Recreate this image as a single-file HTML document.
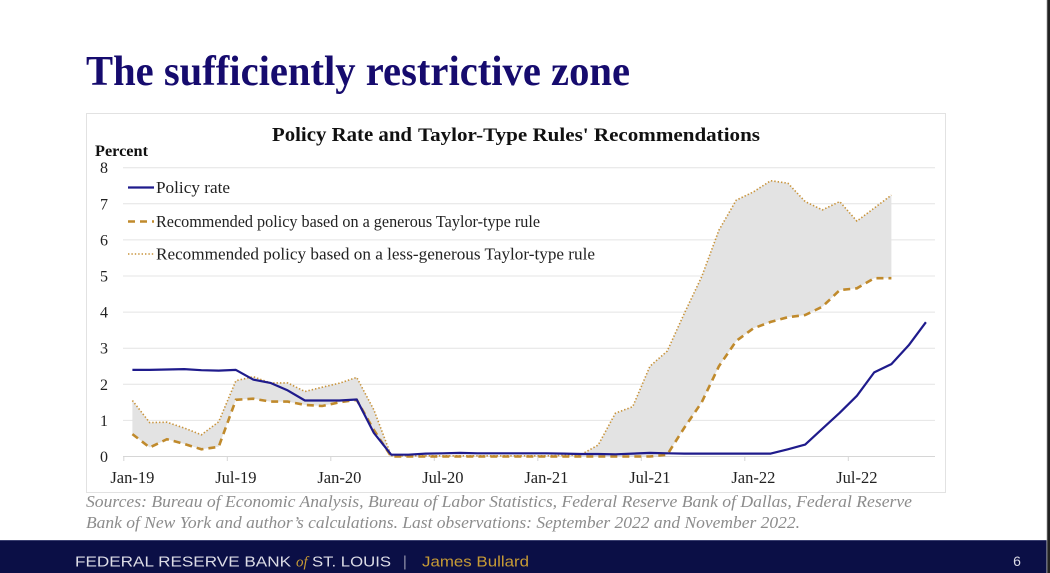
<!DOCTYPE html>
<html>
<head>
<meta charset="utf-8">
<style>
html,body{margin:0;padding:0;background:#fff;}
body{width:1050px;height:573px;overflow:hidden;position:relative;}
svg{display:block;}
</style>
</head>
<body>
<svg width="1050" height="573" viewBox="0 0 1050 573" xmlns="http://www.w3.org/2000/svg">
  <rect x="0" y="0" width="1050" height="573" fill="#ffffff"/>
  <!-- Title -->
  <text x="86" y="85" font-family="Liberation Serif, serif" font-weight="bold" font-size="42" fill="#160b6e" textLength="544" lengthAdjust="spacingAndGlyphs">The sufficiently restrictive zone</text>

  <!-- chart box -->
  <rect x="86.5" y="113.5" width="859" height="379" fill="#ffffff" stroke="#e2e2e2" stroke-width="1"/>

  <!-- chart title -->
  <text x="272" y="141" font-family="Liberation Serif, serif" font-weight="bold" font-size="20" fill="#111" textLength="140" lengthAdjust="spacingAndGlyphs">Policy Rate and</text>
  <text x="418" y="141" font-family="Liberation Serif, serif" font-weight="bold" font-size="18.5" fill="#111" textLength="342" lengthAdjust="spacingAndGlyphs">Taylor-Type Rules' Recommendations</text>

  <text x="95" y="156" font-family="Liberation Serif, serif" font-weight="bold" font-size="16" fill="#111" textLength="53" lengthAdjust="spacingAndGlyphs">Percent</text>

  <!-- gridlines -->
  <g stroke="#e4e4e4" stroke-width="1">
    <line x1="123" y1="420.4" x2="935" y2="420.4"/>
    <line x1="123" y1="384.3" x2="935" y2="384.3"/>
    <line x1="123" y1="348.2" x2="935" y2="348.2"/>
    <line x1="123" y1="312.1" x2="935" y2="312.1"/>
    <line x1="123" y1="276" x2="935" y2="276"/>
    <line x1="123" y1="239.9" x2="935" y2="239.9"/>
    <line x1="123" y1="203.8" x2="935" y2="203.8"/>
    <line x1="123" y1="167.7" x2="935" y2="167.7"/>
  </g>
  <line x1="123" y1="456.5" x2="935" y2="456.5" stroke="#d6d6d6" stroke-width="1"/>
  <g stroke="#d6d6d6" stroke-width="1">
    <line x1="123.8" y1="456.5" x2="123.8" y2="461"/>
    <line x1="227.3" y1="456.5" x2="227.3" y2="461"/>
    <line x1="330.8" y1="456.5" x2="330.8" y2="461"/>
    <line x1="434.3" y1="456.5" x2="434.3" y2="461"/>
    <line x1="537.8" y1="456.5" x2="537.8" y2="461"/>
    <line x1="641.3" y1="456.5" x2="641.3" y2="461"/>
    <line x1="744.8" y1="456.5" x2="744.8" y2="461"/>
    <line x1="848.3" y1="456.5" x2="848.3" y2="461"/>
  </g>

  <!-- y labels -->
  <g font-family="Liberation Serif, serif" font-size="16" fill="#222" text-anchor="middle">
    <text x="104" y="462">0</text>
    <text x="104" y="425.9">1</text>
    <text x="104" y="389.8">2</text>
    <text x="104" y="353.7">3</text>
    <text x="104" y="317.6">4</text>
    <text x="104" y="281.5">5</text>
    <text x="104" y="245.4">6</text>
    <text x="104" y="209.3">7</text>
    <text x="104" y="173.2">8</text>
  </g>

  <!-- x labels -->
  <g font-family="Liberation Serif, serif" font-size="16.5" fill="#222" text-anchor="middle">
    <text x="132.4" y="483">Jan-19</text>
    <text x="235.9" y="483">Jul-19</text>
    <text x="339.4" y="483">Jan-20</text>
    <text x="442.9" y="483">Jul-20</text>
    <text x="546.4" y="483">Jan-21</text>
    <text x="649.9" y="483">Jul-21</text>
    <text x="753.4" y="483">Jan-22</text>
    <text x="856.9" y="483">Jul-22</text>
  </g>

  <!-- fill between rules -->
  <polygon fill="#e3e3e3" points="132.4,400.5 149.7,422.6 166.9,422.2 184.2,428.0 201.4,434.8 218.7,421.8 235.9,380.7 253.2,376.7 270.4,382.9 287.7,382.9 304.9,391.5 322.2,387.2 339.4,383.2 356.7,377.4 373.9,409.9 391.2,455.8 408.4,455.8 425.7,455.8 442.9,455.8 460.2,455.8 477.4,455.8 494.7,455.8 511.9,455.8 529.2,455.8 546.4,455.8 563.7,455.4 580.9,454.7 598.2,445.0 615.4,413.2 632.7,406.7 649.9,366.3 667.2,351.1 684.4,313.2 701.7,276.7 718.9,230.2 736.2,200.2 753.4,191.9 770.7,180.7 787.9,183.2 805.2,201.6 822.4,209.9 839.7,201.6 856.9,221.1 874.2,208.1 891.4,195.1 891.4,278.2 874.2,278.2 856.9,288.3 839.7,290.1 822.4,306.7 805.2,315.0 787.9,317.2 770.7,321.9 753.4,328.3 736.2,341.0 718.9,366.3 701.7,402.3 684.4,427.6 667.2,454.7 649.9,456.5 632.7,456.5 615.4,456.5 598.2,456.5 580.9,456.5 563.7,456.5 546.4,456.5 529.2,456.5 511.9,456.5 494.7,456.5 477.4,456.5 460.2,456.5 442.9,456.5 425.7,456.5 408.4,456.5 391.2,456.5 373.9,430.1 356.7,399.8 339.4,402.3 322.2,406.0 304.9,404.9 287.7,401.6 270.4,401.6 253.2,398.7 235.9,399.8 218.7,446.8 201.4,449.3 184.2,443.9 166.9,439.2 149.7,447.5 132.4,434.1"/>

  <!-- less-generous (dotted) -->
  <polyline fill="none" stroke="#c8933a" stroke-width="1.6" stroke-dasharray="1.4,2" points="132.4,400.5 149.7,422.6 166.9,422.2 184.2,428.0 201.4,434.8 218.7,421.8 235.9,380.7 253.2,376.7 270.4,382.9 287.7,382.9 304.9,391.5 322.2,387.2 339.4,383.2 356.7,377.4 373.9,409.9 391.2,455.8 408.4,455.8 425.7,455.8 442.9,455.8 460.2,455.8 477.4,455.8 494.7,455.8 511.9,455.8 529.2,455.8 546.4,455.8 563.7,455.4 580.9,454.7 598.2,445.0 615.4,413.2 632.7,406.7 649.9,366.3 667.2,351.1 684.4,313.2 701.7,276.7 718.9,230.2 736.2,200.2 753.4,191.9 770.7,180.7 787.9,183.2 805.2,201.6 822.4,209.9 839.7,201.6 856.9,221.1 874.2,208.1 891.4,195.1"/>

  <!-- generous (dashed) -->
  <polyline fill="none" stroke="#c08a2c" stroke-width="2.6" stroke-dasharray="7,5" points="132.4,434.1 149.7,447.5 166.9,439.2 184.2,443.9 201.4,449.3 218.7,446.8 235.9,399.8 253.2,398.7 270.4,401.6 287.7,401.6 304.9,404.9 322.2,406.0 339.4,402.3 356.7,399.8 373.9,430.1 391.2,456.5 408.4,456.5 425.7,456.5 442.9,456.5 460.2,456.5 477.4,456.5 494.7,456.5 511.9,456.5 529.2,456.5 546.4,456.5 563.7,456.5 580.9,456.5 598.2,456.5 615.4,456.5 632.7,456.5 649.9,456.5 667.2,454.7 684.4,427.6 701.7,402.3 718.9,366.3 736.2,341.0 753.4,328.3 770.7,321.9 787.9,317.2 805.2,315.0 822.4,306.7 839.7,290.1 856.9,288.3 874.2,278.2 891.4,278.2"/>

  <!-- policy rate -->
  <polyline fill="none" stroke="#1f1b8c" stroke-width="2.2" stroke-linejoin="round" points="132.4,369.9 149.7,369.9 166.9,369.5 184.2,369.1 201.4,370.2 218.7,370.6 235.9,369.9 253.2,379.6 270.4,382.9 287.7,390.4 304.9,400.5 322.2,400.5 339.4,400.5 356.7,399.5 373.9,433.0 391.2,454.7 408.4,454.7 425.7,453.6 442.9,453.3 460.2,452.9 477.4,453.3 494.7,453.3 511.9,453.3 529.2,453.3 546.4,453.3 563.7,453.6 580.9,454.0 598.2,454.0 615.4,454.3 632.7,453.6 649.9,452.9 667.2,453.3 684.4,453.6 701.7,453.6 718.9,453.6 736.2,453.6 753.4,453.6 770.7,453.6 787.9,449.3 805.2,444.6 822.4,428.7 839.7,412.8 856.9,395.8 874.2,372.4 891.4,364.1 908.7,345.3 925.9,322.2"/>

  <!-- legend -->
  <line x1="128" y1="187.5" x2="154" y2="187.5" stroke="#1f1b8c" stroke-width="2.2"/>
  <text x="156" y="193" font-family="Liberation Serif, serif" font-size="16.5" fill="#222" textLength="74" lengthAdjust="spacingAndGlyphs">Policy rate</text>
  <line x1="128" y1="221.5" x2="154" y2="221.5" stroke="#c08a2c" stroke-width="2.6" stroke-dasharray="7,5"/>
  <text x="156" y="227" font-family="Liberation Serif, serif" font-size="16.5" fill="#222" textLength="384" lengthAdjust="spacingAndGlyphs">Recommended policy based on a generous Taylor-type rule</text>
  <line x1="128" y1="254" x2="154" y2="254" stroke="#c8933a" stroke-width="1.6" stroke-dasharray="1.4,2"/>
  <text x="156" y="259.5" font-family="Liberation Serif, serif" font-size="16.5" fill="#222" textLength="439" lengthAdjust="spacingAndGlyphs">Recommended policy based on a less-generous Taylor-type rule</text>

  <!-- sources -->
  <text x="86" y="507" font-family="Liberation Serif, serif" font-style="italic" font-size="17" fill="#8c8c8c" textLength="826" lengthAdjust="spacingAndGlyphs">Sources: Bureau of Economic Analysis, Bureau of Labor Statistics, Federal Reserve Bank of Dallas, Federal Reserve</text>
  <text x="86" y="528" font-family="Liberation Serif, serif" font-style="italic" font-size="17" fill="#8c8c8c" textLength="714" lengthAdjust="spacingAndGlyphs">Bank of New York and author’s calculations. Last observations: September 2022 and November 2022.</text>

  <!-- footer -->
  <rect x="0" y="540" width="1050" height="33" fill="#0b0f46"/>
  <line x1="0" y1="540.5" x2="1050" y2="540.5" stroke="#3a3f70" stroke-width="1"/>
  <text x="75" y="566.5" font-family="Liberation Sans, sans-serif" font-size="15" fill="#dcdce6" textLength="216" lengthAdjust="spacingAndGlyphs">FEDERAL RESERVE BANK</text>
  <text x="296" y="566.5" font-family="Liberation Serif, serif" font-style="italic" font-size="15" fill="#c79b35">of</text>
  <text x="312" y="566.5" font-family="Liberation Sans, sans-serif" font-size="15" fill="#dcdce6" textLength="79" lengthAdjust="spacingAndGlyphs">ST. LOUIS</text>
  <text x="403" y="566.5" font-family="Liberation Sans, sans-serif" font-size="14.5" fill="#9a9ab0">|</text>
  <text x="422" y="566.5" font-family="Liberation Sans, sans-serif" font-size="15" fill="#c79b35" textLength="107" lengthAdjust="spacingAndGlyphs">James Bullard</text>
  <text x="1017" y="566" font-family="Liberation Sans, sans-serif" font-size="14" fill="#dcdce6" text-anchor="middle">6</text>

  <!-- right edge bar -->
  <rect x="1047" y="0" width="3" height="573" fill="#222222"/>
  <rect x="1046.5" y="0" width="0.8" height="573" fill="#bbbbbb"/>
</svg>
</body>
</html>
